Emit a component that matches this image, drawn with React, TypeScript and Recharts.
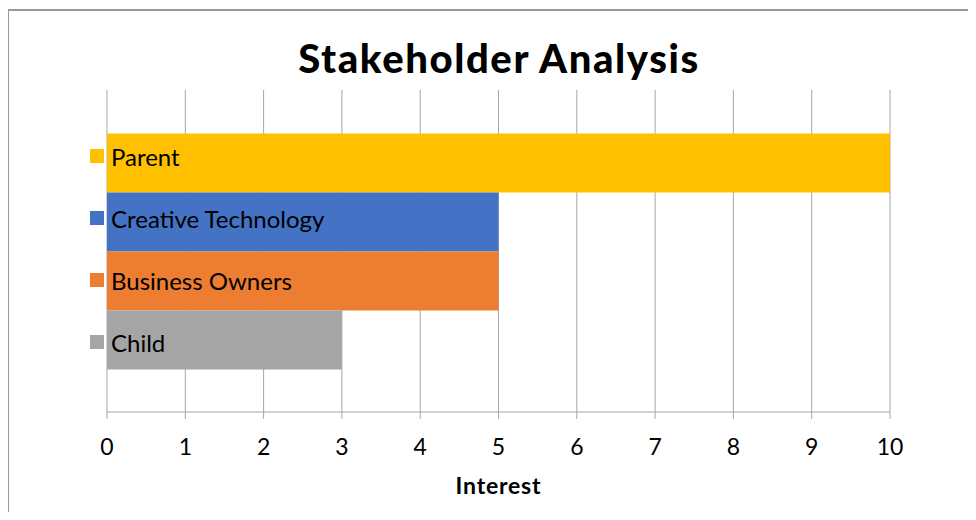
import { BarChart, Bar, XAxis, YAxis, CartesianGrid, Legend } from 'recharts';

const SERIES = ['Parent', 'Creative Technology', 'Business Owners', 'Child'];
const VALUES = [10, 5, 5, 3];
const COLORS = ['#FFC000', '#4472C4', '#ED7D31', '#A5A5A5'];
const X_TICKS = [0, 1, 2, 3, 4, 5, 6, 7, 8, 9, 10];

const FONT = 'Lato, "Open Sans", sans-serif';

// one category row, one bar per stakeholder
const row: Record<string, any> = { name: 'Stakeholders' };
SERIES.forEach((s, i) => {
    row[s] = VALUES[i];
});
const data = [row];

function LegendBox({ payload }: any) {
    // keep series order (legend sorts by name otherwise)
    const items = [...(payload || [])].sort((a: any, b: any) => SERIES.indexOf(a.value) - SERIES.indexOf(b.value));
    return (
        <div style={{ fontFamily: FONT }}>
            {items.map((entry: any) => (
                <div key={entry.value} style={{ height: 62, display: 'flex', alignItems: 'center' }}>
                    <span style={{ width: 14, height: 14, background: entry.color, marginRight: 7, display: 'inline-block' }} />
                    <span style={{ fontSize: 24, color: '#000' }}>{entry.value}</span>
                </div>
            ))}
        </div>
    );
}

export default function App() {
    return (
        <div style={{ position: 'relative', margin: -8, width: 976, height: 520, overflow: 'hidden', background: '#fff' }}>
            <div
                style={{
                    position: 'absolute',
                    left: 7,
                    top: 9,
                    width: 1000,
                    height: 600,
                    border: '2px solid #999',
                    boxSizing: 'border-box',
                    pointerEvents: 'none',
                }}
            />
            <div
                style={{
                    position: 'absolute',
                    left: 0,
                    width: 998,
                    top: 32,
                    textAlign: 'center',
                    fontFamily: FONT,
                    fontWeight: 900,
                    fontSize: 40,
                    letterSpacing: 1.6,
                    color: '#000',
                    lineHeight: '52px',
                }}
            >
                Stakeholder Analysis
            </div>
            <div style={{ position: 'absolute', left: 0, top: 0 }}>
                <BarChart
                    width={976}
                    height={520}
                    data={data}
                    layout="vertical"
                    margin={{ top: 90, right: 86, bottom: 18, left: 107 }}
                    barCategoryGap="13.5%"
                    barGap={0}
                >
                    <CartesianGrid horizontal={false} stroke="#a6a6a6" />
                    <XAxis
                        type="number"
                        domain={[0, 10]}
                        ticks={X_TICKS}
                        interval={0}
                        height={90}
                        stroke="#a6a6a6"
                        tickSize={7}
                        tickMargin={20}
                        tick={{ fontSize: 23, fill: '#000', fontFamily: FONT }}
                        label={{
                            value: 'Interest',
                            position: 'insideBottom',
                            offset: 8,
                            style: { fontSize: 23, fontWeight: 700, letterSpacing: 0.8, fill: '#000', fontFamily: FONT },
                        }}
                    />
                    <YAxis type="category" dataKey="name" hide width={0} />
                    <Legend
                        layout="vertical"
                        align="center"
                        verticalAlign="middle"
                        content={<LegendBox />}
                        wrapperStyle={{ left: 90, top: 125, width: 320 }}
                    />
                    {SERIES.map((s, i) => (
                        <Bar key={s} dataKey={s} fill={COLORS[i]} isAnimationActive={false} />
                    ))}
                </BarChart>
            </div>
        </div>
    );
}
